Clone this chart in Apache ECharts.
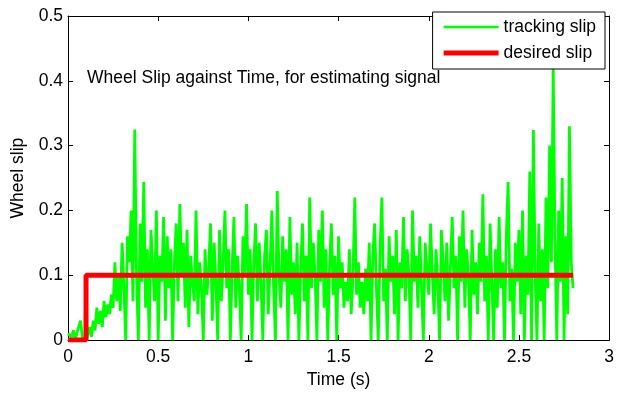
<!DOCTYPE html>
<html>
<head>
<meta charset="utf-8">
<script src="https://cdn.jsdelivr.net/npm/echarts@6/dist/echarts.min.js"></script>
<style>html,body{margin:0;padding:0;background:#fff;}#c{width:617px;height:394px;}</style>
</head>
<body>
<div id="c"></div>
<script>
// Sample step (s) of the tracking signal
var dt = 0.01;
// Tracking slip values, one per 0.01 s, from t = 0 to 2.8 s
var trackingSlip = [
  0.010,0.012,0.005,0.015,0.000,0.012,0.010,0.030,0.002,0.000,
  0.000,0.008,0.020,0.005,0.030,0.015,0.050,0.025,0.045,0.020,
  0.060,0.035,0.055,0.040,0.070,0.050,0.120,0.060,0.100,0.045,
  0.150,0.080,0.000,0.160,0.120,0.200,0.060,0.325,0.100,0.000,
  0.180,0.090,0.244,0.050,0.140,0.000,0.170,0.110,0.060,0.200,
  0.000,0.130,0.090,0.190,0.030,0.160,0.080,0.140,0.000,0.120,
  0.180,0.060,0.210,0.100,0.150,0.050,0.170,0.020,0.130,0.090,
  0.060,0.200,0.040,0.120,0.080,0.000,0.140,0.070,0.110,0.180,
  0.030,0.150,0.090,0.000,0.170,0.060,0.120,0.200,0.080,0.140,
  0.000,0.110,0.190,0.050,0.130,0.080,0.000,0.160,0.100,0.210,
  0.070,0.140,0.000,0.120,0.180,0.060,0.150,0.090,0.000,0.130,
  0.170,0.040,0.110,0.200,0.080,0.000,0.230,0.100,0.050,0.160,
  0.090,0.140,0.000,0.190,0.070,0.120,0.040,0.150,0.000,0.110,
  0.180,0.060,0.130,0.000,0.220,0.080,0.150,0.100,0.000,0.170,
  0.090,0.200,0.050,0.140,0.000,0.110,0.180,0.070,0.130,0.000,
  0.160,0.080,0.120,0.050,0.090,0.060,0.140,0.040,0.100,0.220,
  0.070,0.120,0.050,0.090,0.040,0.110,0.060,0.150,0.000,0.130,
  0.180,0.080,0.000,0.140,0.220,0.060,0.110,0.000,0.160,0.090,
  0.130,0.040,0.170,0.000,0.120,0.080,0.190,0.060,0.140,0.100,
  0.000,0.200,0.090,0.130,0.050,0.160,0.080,0.000,0.150,0.110,
  0.070,0.180,0.100,0.040,0.140,0.090,0.000,0.170,0.120,0.060,
  0.150,0.030,0.110,0.190,0.080,0.130,0.000,0.160,0.090,0.200,
  0.050,0.140,0.100,0.000,0.170,0.070,0.120,0.040,0.150,0.090,
  0.225,0.060,0.130,0.000,0.180,0.090,0.000,0.140,0.050,0.190,
  0.080,0.120,0.000,0.160,0.244,0.060,0.110,0.000,0.150,0.090,
  0.170,0.040,0.200,0.000,0.130,0.070,0.260,0.000,0.324,0.100,
  0.000,0.180,0.060,0.140,0.000,0.220,0.080,0.300,0.120,0.420,
  0.150,0.000,0.200,0.090,0.250,0.000,0.160,0.040,0.330,0.120,
  0.080
];
// Desired slip step profile
var desiredTime = [0, 0.1, 0.1, 2.8];
var desiredSlip = [0, 0, 0.1, 0.1];
// Axis ticks
var xTicks = [0, 0.5, 1, 1.5, 2, 2.5, 3];
var yTicks = [0, 0.1, 0.2, 0.3, 0.4, 0.5];

var trackingData = trackingSlip.map(function (v, i) { return [+(i * dt).toFixed(3), v]; });
var desiredData = desiredTime.map(function (t, i) { return [t, desiredSlip[i]]; });

var font = 'Liberation Sans, Arial, sans-serif';
var fs = 17.5;
var chart = echarts.init(document.getElementById('c'), null, {renderer: 'canvas'});
function axisCommon(show, fmt, margin) {
  return {
    axisLine: {show: true, onZero: false, lineStyle: {color: '#000', width: 1}},
    axisTick: {show: true, inside: true, length: 5, lineStyle: {color: '#000'}},
    splitLine: {show: false},
    axisLabel: {show: show, color: '#000', fontSize: fs, fontFamily: font, margin: margin || 6, formatter: fmt}
  };
}
var xFmt = function (v) { var s = +v.toFixed(1); return xTicks.indexOf(s) >= 0 ? String(s) : ''; };
var yFmt = function (v) { var s = +v.toFixed(1); return yTicks.indexOf(s) >= 0 ? String(s) : ''; };
chart.setOption({
  animation: false,
  backgroundColor: '#fff',
  grid: {left: 68, right: 5, top: 16, bottom: 50, containLabel: false},
  title: {
    text: 'Wheel Slip against Time, for estimating signal',
    left: 87, top: 69, padding: 0,
    textStyle: {fontSize: fs, fontWeight: 'normal', color: '#000', fontFamily: font}
  },
  legend: {
    orient: 'vertical', right: 12, top: 12,
    backgroundColor: '#fff', borderColor: '#000', borderWidth: 1,
    padding: [5, 9, 6, 11], itemGap: 6,
    itemWidth: 55, itemHeight: 20,
    textStyle: {fontSize: fs, color: '#000', fontFamily: font, lineHeight: 20},
    data: [
      {name: 'tracking slip', icon: 'path://M0,0L55,0L55,2.6L0,2.6Z'},
      {name: 'desired slip', icon: 'path://M0,0L55,0L55,5L0,5Z'}
    ]
  },
  xAxis: [
    Object.assign({type: 'value', min: 0, max: 3, interval: 0.5, position: 'bottom',
      name: 'Time (s)', nameLocation: 'middle', nameGap: 30,
      nameTextStyle: {fontSize: fs, color: '#000', fontFamily: font}}, axisCommon(true, xFmt, 8)),
    Object.assign({type: 'value', min: 0, max: 3, interval: 0.5, position: 'top'}, axisCommon(false))
  ],
  yAxis: [
    Object.assign({type: 'value', min: 0, max: 0.5, interval: 0.1, position: 'left',
      name: 'Wheel slip', nameLocation: 'middle', nameGap: 41, nameRotate: 90,
      nameTextStyle: {fontSize: fs, color: '#000', fontFamily: font}}, axisCommon(true, yFmt, 5)),
    Object.assign({type: 'value', min: 0, max: 0.5, interval: 0.1, position: 'right'}, axisCommon(false))
  ],
  series: [
    {
      name: 'tracking slip', type: 'line', data: trackingData,
      xAxisIndex: 0, yAxisIndex: 0, symbol: 'none', showSymbol: false,
      itemStyle: {color: '#00ff00'},
      lineStyle: {color: '#00ff00', width: 2.8}, z: 2
    },
    {
      name: 'desired slip', type: 'line', data: desiredData,
      xAxisIndex: 0, yAxisIndex: 0, symbol: 'none', showSymbol: false,
      itemStyle: {color: '#ff0000'},
      lineStyle: {color: '#ff0000', width: 5}, z: 3
    }
  ]
});
</script>
</body>
</html>
